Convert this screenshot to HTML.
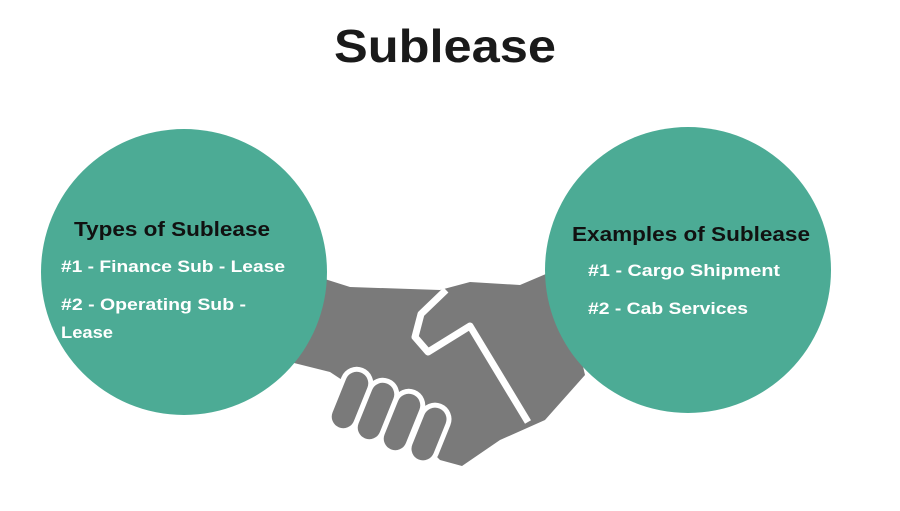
<!DOCTYPE html>
<html><head><style>
body{margin:0;width:900px;height:506px;background:#fff;overflow:hidden;font-family:"Liberation Sans",sans-serif}
</style></head><body>
<svg width="900" height="506" viewBox="0 0 900 506" xmlns="http://www.w3.org/2000/svg">
<text x="445" y="62" text-anchor="middle" font-family="Liberation Sans, sans-serif" font-weight="bold" font-size="46" fill="#1a1a1a" textLength="222" lengthAdjust="spacingAndGlyphs">Sublease</text>
<polygon fill="#7a7a7a" points="290,268 350,287 440,290 470,282 520,285 560,268 585,375 545,420 500,440 462,466 440,460 420,440 380,405 330,372 290,362"/>
<polyline fill="none" stroke="#fff" stroke-width="7" stroke-linejoin="round" points="446,290 421,314 415,337 428,352 470,326 528,422"/>
<g fill="#7a7a7a" stroke="#fff" stroke-width="5">
<rect x="-14" y="-32" width="28" height="64" rx="14" transform="translate(350,400) rotate(22)"/>
<rect x="-14" y="-32" width="28" height="64" rx="14" transform="translate(376,411) rotate(22)"/>
<rect x="-14" y="-32" width="28" height="64" rx="14" transform="translate(402,422) rotate(22)"/>
<rect x="-14" y="-30" width="28" height="60" rx="14" transform="translate(429,434) rotate(22)"/>
</g>
<circle cx="184" cy="272" r="143" fill="#4cab95"/>
<circle cx="688" cy="270" r="143" fill="#4cab95"/>
<g font-family="Liberation Sans, sans-serif" font-weight="bold">
<text x="74" y="236" font-size="20" fill="#111" textLength="196" lengthAdjust="spacingAndGlyphs">Types of Sublease</text>
<text x="61" y="272" font-size="17" fill="#fff" textLength="224" lengthAdjust="spacingAndGlyphs">#1 - Finance Sub - Lease</text>
<text x="61" y="310" font-size="17" fill="#fff" textLength="185" lengthAdjust="spacingAndGlyphs">#2 - Operating Sub -</text>
<text x="61" y="338" font-size="17" fill="#fff" textLength="52" lengthAdjust="spacingAndGlyphs">Lease</text>
<text x="572" y="241" font-size="20" fill="#111" textLength="238" lengthAdjust="spacingAndGlyphs">Examples of Sublease</text>
<text x="588" y="276" font-size="17" fill="#fff" textLength="192" lengthAdjust="spacingAndGlyphs">#1 - Cargo Shipment</text>
<text x="588" y="314" font-size="17" fill="#fff" textLength="160" lengthAdjust="spacingAndGlyphs">#2 - Cab Services</text>
</g>
</svg>
</body></html>
